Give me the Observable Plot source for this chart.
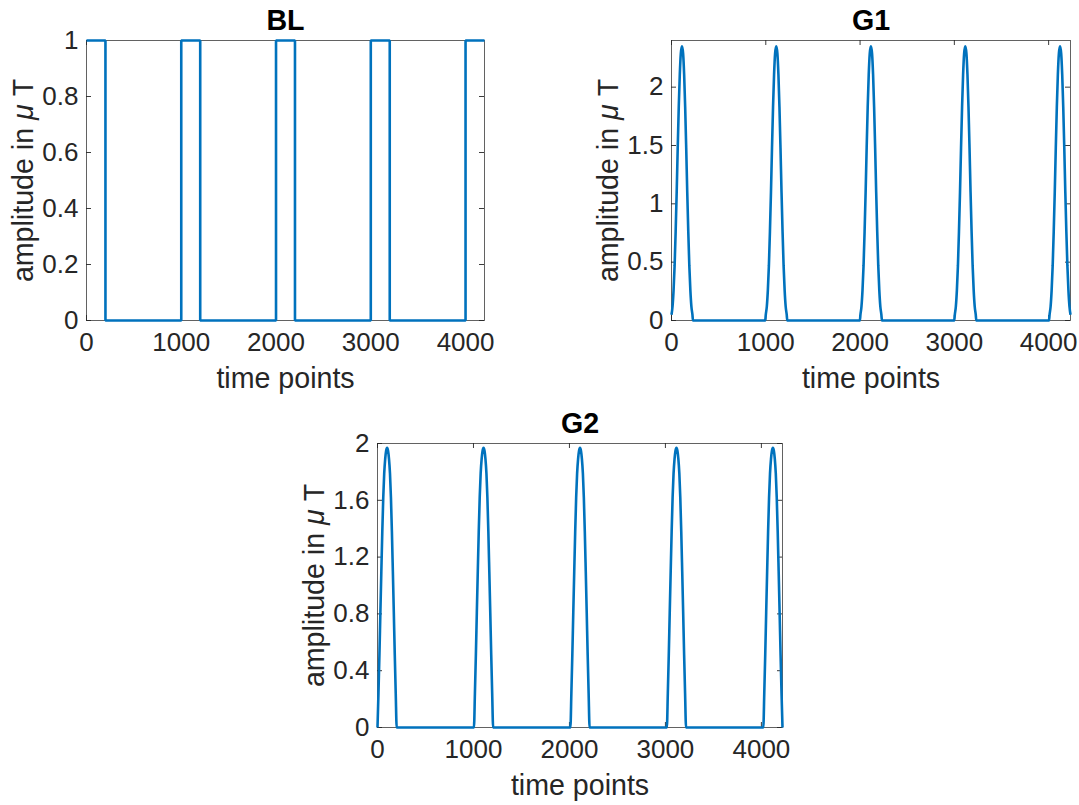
<!DOCTYPE html>
<html>
<head>
<meta charset="utf-8">
<script src="https://cdn.jsdelivr.net/npm/d3@7"></script>
<script src="https://cdn.jsdelivr.net/npm/@observablehq/plot@0.6"></script>
<style>
  html, body { margin: 0; padding: 0; background: #fff; }
  #fig { position: relative; width: 1079px; height: 805px; background: #fff; overflow: hidden; }
  .panel { position: absolute; }
</style>
</head>
<body>
<div id="fig"></div>
<script>
// ---------- data ----------
const xTicks = [0, 1000, 2000, 3000, 4000];

// BL: rectangular pulses (step-after)
const blTimes  = [0, 200, 1000, 1200, 2000, 2200, 3000, 3200, 4000, 4200];
const blValues = [1, 0,   1,    0,    1,    0,    1,    0,    1,    1];
const blYTicks = [0, 0.2, 0.4, 0.6, 0.8, 1];
const blXDomain = [0, 4200];

// G1: gaussian-like pulses
const g1PulseStarts  = [0, 1000, 2004, 3005, 4010];
const g1PulseOffsets = [-6, 0, 11, 22, 33, 44, 55, 66, 77, 88, 99, 111, 123, 134, 145, 156, 167, 178, 189, 200, 211, 222, 228];
const g1PulseValues  = [0, 0.05, 0.12, 0.26, 0.47, 0.76, 1.10, 1.48, 1.83, 2.11, 2.29, 2.35, 2.29, 2.11, 1.83, 1.48, 1.10, 0.76, 0.47, 0.26, 0.12, 0.05, 0];
const g1YTicks = [0, 0.5, 1, 1.5, 2];
const g1XDomain = [0, 4232];
const g1YDomain = [0, 2.4];

// G2: rounded, nearly triangular pulses
const g2PulseStarts  = [0, 1005, 2010, 3015, 4020];
const g2PulseOffsets = [0, 10, 20, 30, 40, 50, 60, 70, 80, 90, 100, 110, 120, 130, 140, 150, 160, 170, 180, 190, 200];
const g2PulseValues  = [0, 0.24, 0.51, 0.81, 1.10, 1.38, 1.62, 1.79, 1.89, 1.95, 1.97, 1.95, 1.89, 1.79, 1.62, 1.38, 1.10, 0.81, 0.51, 0.24, 0];
const g2YTicks = [0, 0.4, 0.8, 1.2, 1.6, 2];
const g2XDomain = [0, 4220];
const g2YDomain = [0, 2];

const titles = ["BL", "G1", "G2"];
const xLabel = "time points";
const yLabelParts = ["amplitude in ", "\u03BC", " T"];

// ---------- build tables ----------
const blData = blTimes.map((t, i) => ({t, v: blValues[i]}));
function pulseTable(starts, offsets, values, domain) {
  const rows = [];
  starts.forEach(s => offsets.forEach((o, i) => rows.push({t: s + o, v: values[i]})));
  return rows.filter(d => d.t >= domain[0] && d.t <= domain[1]);
}
const g1Data = pulseTable(g1PulseStarts, g1PulseOffsets, g1PulseValues, g1XDomain);
const g2Data = pulseTable(g2PulseStarts, g2PulseOffsets, g2PulseValues, g2XDomain);

// ---------- drawing ----------
const FONT = '"Liberation Sans", Arial, Helvetica, sans-serif';
const INK = "#262626";
const BLUE = "#0072BD";
const fig = document.getElementById("fig");

function panel({data, curve, xDomain, yDomain, yTicks, title, left, top, width, height, m}) {
  const ih = height - m.top - m.bottom;
  const iw = width - m.left - m.right;
  const yLabel = yLabelParts.join("");
  const svg = Plot.plot({
    width, height,
    marginLeft: m.left, marginRight: m.right, marginTop: m.top, marginBottom: m.bottom,
    style: {fontFamily: FONT, color: INK, background: "transparent", overflow: "visible"},
    x: {domain: xDomain, axis: null},
    y: {domain: yDomain, axis: null},
    marks: [
      Plot.frame({stroke: INK, strokeWidth: 0.9, strokeOpacity: 0.8}),
      Plot.ruleX(xTicks, {x: d => d, stroke: INK, strokeWidth: 0.9, insetTop: ih - 5}),
      Plot.ruleX(xTicks, {x: d => d, stroke: INK, strokeWidth: 0.9, insetBottom: ih - 5}),
      Plot.ruleY(yTicks, {y: d => d, stroke: INK, strokeWidth: 0.9, insetRight: iw - 5}),
      Plot.ruleY(yTicks, {y: d => d, stroke: INK, strokeWidth: 0.9, insetLeft: iw - 5}),
      Plot.line(data, {x: "t", y: "v", stroke: BLUE, strokeWidth: 2.6, curve,
                       strokeLinejoin: "miter", strokeLinecap: "butt"}),
      Plot.axisX(xTicks, {tickSize: 0, tickPadding: 12, fontSize: 26, label: null, tickFormat: d => String(d)}),
      Plot.axisY(yTicks, {tickSize: 0, tickPadding: 8, fontSize: 26, label: null, tickFormat: d => String(d)}),
      Plot.text([title], {text: d => d, frameAnchor: "top", dy: -11, lineAnchor: "bottom",
                          fontSize: 28.6, fontWeight: "bold", fill: "#000"}),
      Plot.text([xLabel], {text: d => d, frameAnchor: "bottom", dy: 67, lineAnchor: "bottom",
                           fontSize: 28.6, fill: INK}),
      Plot.text([yLabel], {text: d => d, frameAnchor: "left", dx: -54, rotate: -90, lineAnchor: "bottom",
                           textAnchor: "middle", fontSize: 28.6, fill: INK})
    ]
  });
  // italic mu in the y label
  d3.select(svg).selectAll("text").filter(function() { return this.textContent === yLabel; })
    .each(function() {
      const t = d3.select(this);
      t.text("").style("white-space", "pre").attr("text-anchor", "middle");
      yLabelParts.forEach((p, i) => {
        t.append("tspan").text(p).style("font-style", i === 1 ? "italic" : "normal");
      });
    });
  const div = document.createElement("div");
  div.className = "panel";
  div.style.left = left + "px";
  div.style.top = top + "px";
  div.appendChild(svg);
  fig.appendChild(div);
}

panel({data: blData, curve: "step-after", xDomain: blXDomain, yDomain: [0, 1], yTicks: blYTicks, title: titles[0],
       left: 0, top: 0, width: 540, height: 400, m: {left: 86, right: 56, top: 40, bottom: 80}});
panel({data: g1Data, curve: "monotone-x", xDomain: g1XDomain, yDomain: g1YDomain, yTicks: g1YTicks, title: titles[1],
       left: 540, top: 0, width: 539, height: 400, m: {left: 131, right: 9, top: 40, bottom: 80}});
panel({data: g2Data, curve: "monotone-x", xDomain: g2XDomain, yDomain: g2YDomain, yTicks: g2YTicks, title: titles[2],
       left: 270, top: 400, width: 540, height: 405, m: {left: 107, right: 28, top: 43, bottom: 78}});
</script>
</body>
</html>
